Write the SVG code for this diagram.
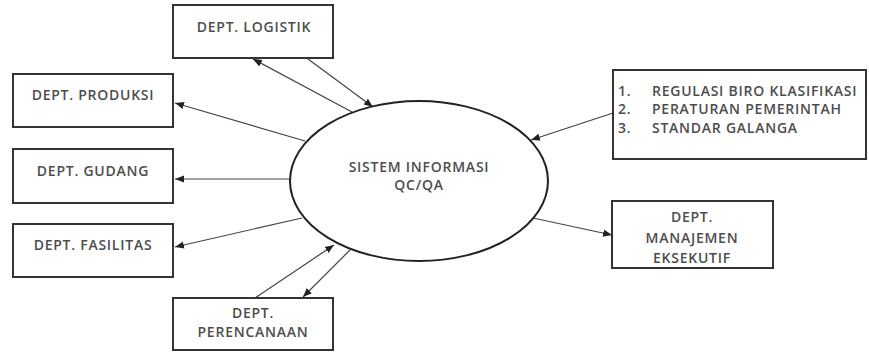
<svg xmlns="http://www.w3.org/2000/svg" width="869" height="354" viewBox="0 0 869 354">
  <style>
    .box { fill: #fff; stroke: #333; stroke-width: 2; }
    .proc { fill: #fff; stroke: #222; stroke-width: 2; }
    .lbl { font-family: "Open Sans", "Noto Sans", "Liberation Sans", sans-serif; font-size: 14px; font-weight: 600; letter-spacing: 0.75px; fill: #4d4d4d; }
    .mid { text-anchor: middle; }
    .flow { stroke: #444; stroke-width: 1.2; fill: none; marker-end: url(#arrow); }
  </style>
  <defs>
    <marker id="arrow" viewBox="0 0 10 10" refX="10" refY="5" markerWidth="9" markerHeight="9" markerUnits="userSpaceOnUse" orient="auto">
      <path d="M0,1 L10,5 L0,9 z" fill="#222"/>
    </marker>
  </defs>

  <!-- data flows -->
  <g id="connectors">
    <line class="flow" x1="352" y1="112" x2="253" y2="59"/>
    <line class="flow" x1="308" y1="59" x2="373" y2="107"/>
    <line class="flow" x1="305" y1="141" x2="175" y2="103"/>
    <line class="flow" x1="290" y1="179" x2="175" y2="179"/>
    <line class="flow" x1="302" y1="218" x2="175" y2="247"/>
    <line class="flow" x1="255" y1="298" x2="334" y2="245"/>
    <line class="flow" x1="350" y1="250" x2="303" y2="297"/>
    <line class="flow" x1="613" y1="113" x2="531" y2="140"/>
    <line class="flow" x1="533" y1="218" x2="612" y2="235"/>
  </g>

  <!-- central process -->
  <g id="sistem-informasi">
    <ellipse class="proc" cx="419" cy="181" rx="129" ry="80"/>
    <text class="lbl mid" x="419" y="172">SISTEM INFORMASI</text>
    <text class="lbl mid" x="419" y="190">QC/QA</text>
  </g>

  <g id="dept-logistik">
    <rect class="box" x="173" y="5" width="160" height="53"/>
    <text class="lbl mid" x="254" y="32">DEPT. LOGISTIK</text>
  </g>

  <g id="dept-produksi">
    <rect class="box" x="13" y="74" width="160" height="53"/>
    <text class="lbl mid" x="93" y="100">DEPT. PRODUKSI</text>
  </g>

  <g id="dept-gudang">
    <rect class="box" x="13" y="149" width="160" height="54"/>
    <text class="lbl mid" x="93" y="176">DEPT. GUDANG</text>
  </g>

  <g id="dept-fasilitas">
    <rect class="box" x="13" y="224" width="160" height="53"/>
    <text class="lbl mid" x="93" y="250">DEPT. FASILITAS</text>
  </g>

  <g id="dept-perencanaan">
    <rect class="box" x="173" y="298" width="160" height="52"/>
    <text class="lbl mid" x="253" y="318">DEPT.</text>
    <text class="lbl mid" x="253" y="337">PERENCANAAN</text>
  </g>

  <g id="regulasi">
    <rect class="box" x="613" y="70" width="253" height="89"/>
    <text class="lbl" x="618" y="96">1.</text>
    <text class="lbl" x="652" y="96">REGULASI BIRO KLASIFIKASI</text>
    <text class="lbl" x="618" y="114">2.</text>
    <text class="lbl" x="652" y="114">PERATURAN PEMERINTAH</text>
    <text class="lbl" x="618" y="133">3.</text>
    <text class="lbl" x="652" y="133">STANDAR GALANGA</text>
  </g>

  <g id="dept-manajemen-eksekutif">
    <rect class="box" x="612" y="201" width="161" height="67"/>
    <text class="lbl mid" x="692" y="222">DEPT.</text>
    <text class="lbl mid" x="692" y="243">MANAJEMEN</text>
    <text class="lbl mid" x="692" y="263">EKSEKUTIF</text>
  </g>
</svg>
